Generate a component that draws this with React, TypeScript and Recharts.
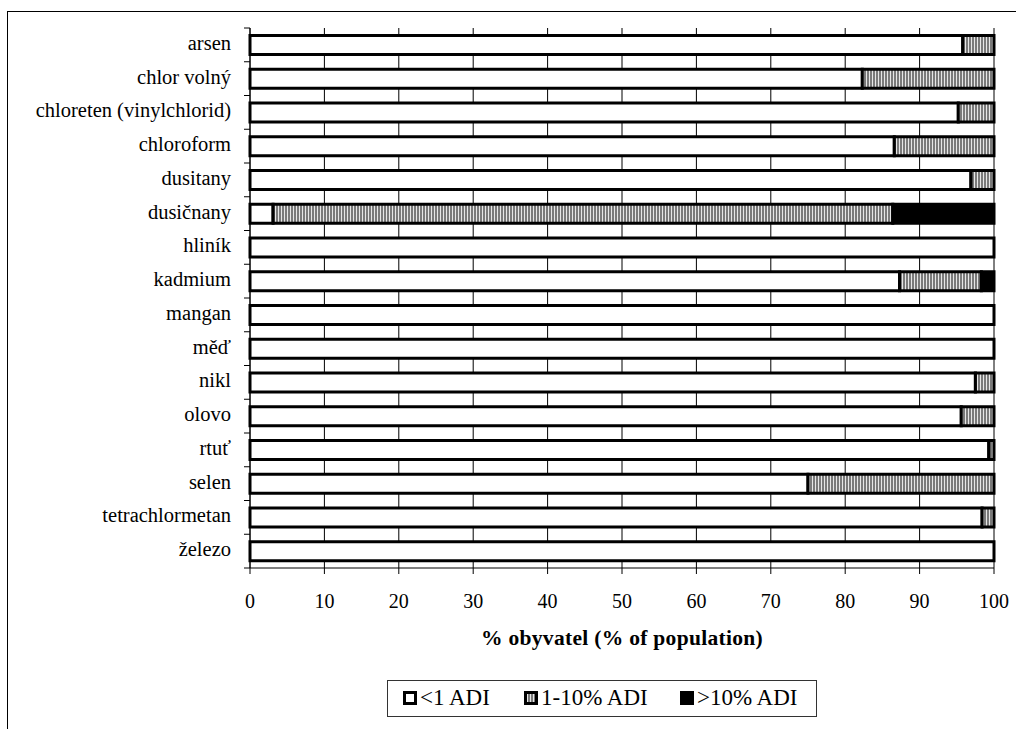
import React from 'react';
import { BarChart, Bar, XAxis, YAxis, CartesianGrid, Label } from 'recharts';

const CATEGORIES = [
  'arsen',
  'chlor volný',
  'chloreten (vinylchlorid)',
  'chloroform',
  'dusitany',
  'dusičnany',
  'hliník',
  'kadmium',
  'mangan',
  'měď',
  'nikl',
  'olovo',
  'rtuť',
  'selen',
  'tetrachlormetan',
  'železo',
];
// share of population (%) per exposure band
const UNDER_1_ADI = [95.8, 82.3, 95.2, 86.6, 96.9, 3.1, 100, 87.3, 100, 100, 97.5, 95.6, 99.3, 75, 98.4, 100];
const ADI_1_TO_10 = [4.2, 17.7, 4.8, 13.4, 3.1, 83.3, 0, 11.0, 0, 0, 2.5, 4.4, 0.7, 25, 1.6, 0];
const OVER_10_ADI = [0, 0, 0, 0, 0, 13.6, 0, 1.7, 0, 0, 0, 0, 0, 0, 0, 0];
const X_TICKS = [0, 10, 20, 30, 40, 50, 60, 70, 80, 90, 100];
const LEGEND_LABELS = ['<1 ADI', '1-10% ADI', '>10% ADI'];

const W = 1016;
const H = 729;
const PLOT_LEFT = 250;
const PLOT_TOP = 28;
const PLOT_BOTTOM = 568;
const BAND = (PLOT_BOTTOM - PLOT_TOP) / CATEGORIES.length;
const FONT = '"Liberation Serif", "Times New Roman", serif';

const data = CATEGORIES.map((name, i) => ({
  name,
  low: UNDER_1_ADI[i],
  mid: ADI_1_TO_10[i],
  high: OVER_10_ADI[i],
}));

// category label at band centre, tick marks on band boundaries
function CategoryTick({ y, payload, index }: any) {
  const half = BAND / 2;
  return (
    <g>
      <text x={231} y={y} dy={5} textAnchor="end" fontFamily={FONT} fontSize={20.5} fill="#000">
        {payload.value}
      </text>
      <line x1={PLOT_LEFT - 6} x2={PLOT_LEFT} y1={y - half} y2={y - half} stroke="#000" />
      {index === CATEGORIES.length - 1 && (
        <line x1={PLOT_LEFT - 6} x2={PLOT_LEFT} y1={y + half} y2={y + half} stroke="#000" />
      )}
    </g>
  );
}

const SWATCH_FILLS = ['#fff', 'url(#hatch)', '#000'];
const LEGEND_X = [403, 524, 680];

function LegendBox() {
  return (
    <svg width={W} height={H} style={{ position: 'absolute', left: 0, top: 0 }}>
      <rect x={387.5} y={680.5} width={429} height={36} fill="#fff" stroke="#333" />
      {LEGEND_LABELS.map((label, i) => (
        <g key={label}>
          <rect
            x={LEGEND_X[i] + 1.5}
            y={692.5}
            width={11}
            height={11}
            fill={SWATCH_FILLS[i]}
            stroke="#000"
            strokeWidth={3}
          />
          <text x={LEGEND_X[i] + 17} y={705} fontFamily={FONT} fontSize={23} fill="#000">
            {label}
          </text>
        </g>
      ))}
    </svg>
  );
}

export default function App() {
  return (
    <div style={{ position: 'fixed', left: 0, top: 0, width: W, height: H, overflow: 'hidden', background: '#fff' }}>
      <svg width={0} height={0} style={{ position: 'absolute' }}>
        <defs>
          <pattern id="hatch" width={3} height={3} patternUnits="userSpaceOnUse">
            <rect width={3} height={3} fill="#7a7a7a" />
            <rect x={2} width={1} height={3} fill="#e6e6e6" />
          </pattern>
        </defs>
      </svg>

      <div
        style={{
          position: 'absolute',
          left: 7,
          top: 11,
          width: 1020,
          height: 740,
          border: '1px solid #000',
          boxSizing: 'border-box',
        }}
      />

      <div style={{ position: 'absolute', left: 0, top: 0 }}>
        <BarChart
          width={W}
          height={H}
          data={data}
          layout="vertical"
          barCategoryGap="22%"
          margin={{ top: PLOT_TOP, right: W - 994, bottom: H - PLOT_BOTTOM - 30, left: 10 }}
        >
          <CartesianGrid horizontal={false} stroke="#000" strokeWidth={1} />
          <XAxis
            type="number"
            domain={[0, 100]}
            ticks={X_TICKS}
            interval={0}
            height={30}
            tickSize={6}
            tickMargin={20}
            stroke="#000"
            tick={{ fill: '#000', fontSize: 20, fontFamily: FONT }}
          >
            <Label
              value="%  obyvatel (%  of population)"
              position="bottom"
              offset={32}
              style={{
                fontFamily: FONT,
                fontSize: 21.5,
                fontWeight: 'bold',
                fill: '#000',
                whiteSpace: 'pre',
                letterSpacing: 0.3,
              }}
            />
          </XAxis>
          <YAxis
            type="category"
            dataKey="name"
            width={240}
            interval={0}
            tickLine={false}
            stroke="#000"
            tick={<CategoryTick />}
          />
          <Bar dataKey="low" stackId="s" fill="#fff" stroke="#000" strokeWidth={3} isAnimationActive={false} />
          <Bar dataKey="mid" stackId="s" fill="url(#hatch)" stroke="#000" strokeWidth={3} isAnimationActive={false} />
          <Bar dataKey="high" stackId="s" fill="#000" stroke="#000" strokeWidth={3} isAnimationActive={false} />
        </BarChart>
      </div>

      <LegendBox />
    </div>
  );
}
